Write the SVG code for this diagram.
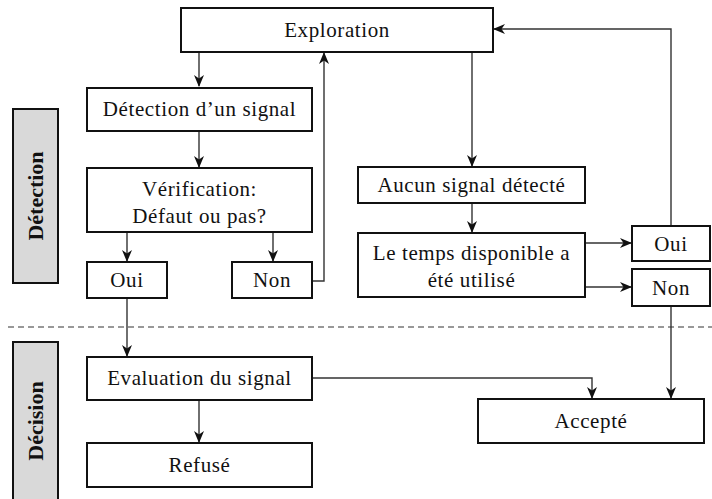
<svg xmlns="http://www.w3.org/2000/svg" width="712" height="499" viewBox="0 0 712 499">
<defs>
<style>
.box{fill:#fff;stroke:#111;stroke-width:2}
.lab{fill:#d9d9d9;stroke:#111;stroke-width:2}
.t{font-family:"Liberation Serif","DejaVu Serif",serif;font-size:21px;letter-spacing:0.6px;fill:#111;text-anchor:middle;dominant-baseline:central}
.tb{font-family:"Liberation Serif","DejaVu Serif",serif;font-size:22px;font-weight:bold;fill:#111;text-anchor:middle;dominant-baseline:central}
.c{fill:none;stroke:#333;stroke-width:1.4}
</style>
<marker id="ah" viewBox="0 0 12 10" refX="11" refY="5" markerWidth="12" markerHeight="10" markerUnits="userSpaceOnUse" orient="auto">
<path d="M0,0 L12,5 L0,10 L3.5,5 z" fill="#111"/>
</marker>
</defs>
<rect width="712" height="499" fill="#fff"/>
<line x1="8" y1="327" x2="712" y2="327" stroke="#777" stroke-width="1.5" stroke-dasharray="6,4"/>
<g id="lab-detection"><rect class="lab" x="13" y="109" width="45" height="174"/><text class="tb" transform="translate(35.5,196) rotate(-90)">Détection</text></g>
<g id="lab-decision"><rect class="lab" x="13" y="342" width="45" height="170"/><text class="tb" transform="translate(35.5,421) rotate(-90)">Décision</text></g>
<g id="connectors">
<path class="c" d="M199,52 V86" marker-end="url(#ah)"/>
<path class="c" d="M199,131 V167" marker-end="url(#ah)"/>
<path class="c" d="M127,232 V261" marker-end="url(#ah)"/>
<path class="c" d="M273,232 V261" marker-end="url(#ah)"/>
<path class="c" d="M312,281 H324 V53" marker-end="url(#ah)"/>
<path class="c" d="M472,52 V166" marker-end="url(#ah)"/>
<path class="c" d="M472,203 V232" marker-end="url(#ah)"/>
<path class="c" d="M585,243 H631" marker-end="url(#ah)"/>
<path class="c" d="M585,287 H631" marker-end="url(#ah)"/>
<path class="c" d="M671,226 V29 H494" marker-end="url(#ah)"/>
<path class="c" d="M671,306 V398" marker-end="url(#ah)"/>
<path class="c" d="M127,298 V356" marker-end="url(#ah)"/>
<path class="c" d="M312,378 H592 V398" marker-end="url(#ah)"/>
<path class="c" d="M199,400 V442" marker-end="url(#ah)"/>
</g>
<g id="exploration"><rect class="box" x="181" y="8" width="312" height="44"/><text class="t" x="337" y="30">Exploration</text></g>
<g id="detection-signal"><rect class="box" x="87" y="88" width="225" height="43"/><text class="t" x="199.5" y="109">Détection d’un signal</text></g>
<g id="verification"><rect class="box" x="87" y="168" width="225" height="64"/><text class="t" x="199.5" y="189">Vérification:</text><text class="t" x="199.5" y="216">Défaut ou pas?</text></g>
<g id="oui-left"><rect class="box" x="87" y="262" width="80" height="36"/><text class="t" x="127" y="280">Oui</text></g>
<g id="non-left"><rect class="box" x="232" y="262" width="80" height="36"/><text class="t" x="272" y="280">Non</text></g>
<g id="aucun"><rect class="box" x="358" y="167" width="227" height="36"/><text class="t" x="471.5" y="185">Aucun signal détecté</text></g>
<g id="temps"><rect class="box" x="358" y="233" width="227" height="64"/><text class="t" x="471.5" y="253">Le temps disponible a</text><text class="t" x="471.5" y="280">été utilisé</text></g>
<g id="oui-right"><rect class="box" x="632" y="226" width="78" height="35"/><text class="t" x="671" y="243.5">Oui</text></g>
<g id="non-right"><rect class="box" x="632" y="269" width="78" height="37"/><text class="t" x="671" y="287.5">Non</text></g>
<g id="evaluation"><rect class="box" x="87" y="357" width="225" height="43"/><text class="t" x="199.5" y="378">Evaluation du signal</text></g>
<g id="refuse"><rect class="box" x="87" y="443" width="225" height="44"/><text class="t" x="199.5" y="465">Refusé</text></g>
<g id="accepte"><rect class="box" x="478" y="399" width="226" height="44"/><text class="t" x="591" y="421">Accepté</text></g>
</svg>
